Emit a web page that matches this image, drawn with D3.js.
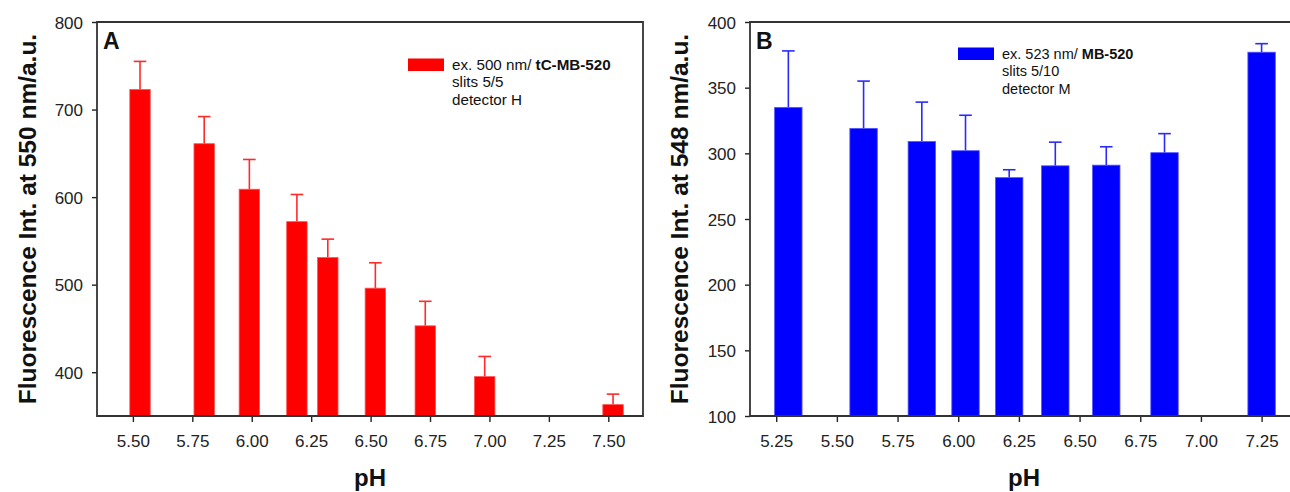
<!DOCTYPE html>
<html>
<head>
<meta charset="utf-8">
<script src="https://cdn.jsdelivr.net/npm/d3@7"></script>
<style>
  html, body { margin: 0; padding: 0; background: #fff; }
  svg { display: block; font-family: "Liberation Sans", Arial, sans-serif; }
</style>
</head>
<body>
<svg id="chart" width="1290" height="492"></svg>
<script>
// ---- Data: panel A (tC-MB-520) ----
const phA   = [5.53, 5.80, 5.99, 6.19, 6.32, 6.52, 6.73, 6.98, 7.52];
const valA  = [723, 661, 609, 572, 531, 496, 453, 395, 363];
const errA  = [32, 31, 34, 31, 21, 29, 28, 23, 12];
const xTicksA = [5.50, 5.75, 6.00, 6.25, 6.50, 6.75, 7.00, 7.25, 7.50];
const yTicksA = [400, 500, 600, 700, 800];

// ---- Data: panel B (MB-520) ----
const phB   = [5.30, 5.61, 5.85, 6.03, 6.21, 6.40, 6.61, 6.85, 7.25];
const valB  = [335, 319, 309, 302, 281.5, 290.5, 291, 300.5, 377];
const errB  = [43, 36, 30, 27, 6, 18, 14, 14.5, 6.5];
const xTicksB = [5.25, 5.50, 5.75, 6.00, 6.25, 6.50, 6.75, 7.00, 7.25];
const yTicksB = [100, 150, 200, 250, 300, 350, 400];

const legendA = ["ex. 500 nm/ ", "tC-MB-520", "slits 5/5", "detector H"];
const legendB = ["ex. 523 nm/ ", "MB-520", "slits 5/10", "detector M"];

const svg = d3.select("#chart");

function panel(cfg) {
  const g = svg.append("g");
  const x = d3.scaleLinear().domain(cfg.xDomain).range([cfg.left, cfg.right]);
  const y = d3.scaleLinear().domain(cfg.yDomain).range([cfg.bottom, cfg.top]);

  const clipId = "clip" + cfg.label;
  svg.append("defs").append("clipPath").attr("id", clipId)
    .append("rect").attr("x", cfg.left).attr("y", cfg.top - 30)
    .attr("width", cfg.right - cfg.left).attr("height", cfg.bottom - cfg.top + 30);

  const data = cfg.ph.map((p, i) => ({ p, v: cfg.val[i], e: cfg.err[i] }));
  const bw = x(cfg.xDomain[0] + cfg.barW) - x(cfg.xDomain[0]);

  const marks = g.append("g").attr("clip-path", `url(#${clipId})`);
  // error bars (positive only)
  marks.selectAll("line.err").data(data).join("line")
    .attr("x1", d => x(d.p)).attr("x2", d => x(d.p))
    .attr("y1", d => y(d.v)).attr("y2", d => y(d.v + d.e))
    .attr("stroke", cfg.errColor).attr("stroke-width", 1.6);
  marks.selectAll("line.cap").data(data).join("line")
    .attr("x1", d => x(d.p) - 6.3).attr("x2", d => x(d.p) + 6.3)
    .attr("y1", d => y(d.v + d.e)).attr("y2", d => y(d.v + d.e))
    .attr("stroke", cfg.errColor).attr("stroke-width", 1.6);
  // bars
  marks.selectAll("rect.bar").data(data).join("rect")
    .attr("x", d => x(d.p) - bw / 2).attr("width", bw)
    .attr("y", d => y(d.v)).attr("height", d => cfg.bottom - y(d.v))
    .attr("fill", cfg.color)
    .attr("stroke", cfg.edge).attr("stroke-width", 0.8);

  // axes
  const fmtX = d3.format(".2f");
  const xa = g.append("g").attr("transform", `translate(0,${cfg.bottom})`)
    .call(d3.axisBottom(x).tickValues(cfg.xTicks).tickFormat(fmtX).tickSize(6).tickSizeOuter(0));
  const ya = g.append("g").attr("transform", `translate(${cfg.left},0)`)
    .call(d3.axisLeft(y).tickValues(cfg.yTicks).tickFormat(d3.format("d")).tickSize(5).tickSizeOuter(0));
  [xa, ya].forEach(a => {
    a.select(".domain").remove();
    a.selectAll(".tick line").attr("stroke", "#222").attr("stroke-width", 1.4);
    a.selectAll(".tick text").attr("fill", "#222").style("font-size", "17px")
      .style("font-family", "'Liberation Sans', Arial, sans-serif");
  });
  xa.selectAll(".tick text").attr("dy", null).attr("y", 31);
  ya.selectAll(".tick text").attr("x", -14).attr("dy", "0.36em");

  // frame
  g.append("path")
    .attr("d", `M${cfg.left},${cfg.top}H${cfg.right}V${cfg.bottom}H${cfg.left}Z`)
    .attr("fill", "none").attr("stroke", "#333").attr("stroke-width", 1.8);

  // panel letter
  g.append("text").attr("x", cfg.left + 6).attr("y", cfg.top + 27)
    .attr("font-weight", "bold").attr("font-size", 23).attr("fill", "#111")
    .text(cfg.label);

  // axis titles
  g.append("text")
    .attr("transform", `translate(${cfg.yTitleX},${(cfg.top + cfg.bottom) / 2}) rotate(-90)`)
    .attr("text-anchor", "middle").attr("font-weight", "bold").attr("font-size", 24.5)
    .attr("fill", "#111").text(cfg.yTitle);
  g.append("text")
    .attr("x", (cfg.left + cfg.right) / 2).attr("y", 486)
    .attr("text-anchor", "middle").attr("font-weight", "bold").attr("font-size", 24)
    .attr("fill", "#111").text("pH");

  // legend
  const lg = g.append("g");
  lg.append("rect").attr("x", cfg.legX).attr("y", cfg.legY - 11)
    .attr("width", 36).attr("height", 12.5).attr("fill", cfg.color);
  const t1 = lg.append("text").attr("x", cfg.legX + 44).attr("y", cfg.legY)
    .attr("font-size", cfg.legFont).attr("fill", "#111");
  t1.append("tspan").text(cfg.legend[0]);
  t1.append("tspan").attr("font-weight", "bold").text(cfg.legend[1]);
  lg.append("text").attr("x", cfg.legX + 44).attr("y", cfg.legY + 17.5)
    .attr("font-size", cfg.legFont).attr("fill", "#111").text(cfg.legend[2]);
  lg.append("text").attr("x", cfg.legX + 44).attr("y", cfg.legY + 35.5)
    .attr("font-size", cfg.legFont).attr("fill", "#111").text(cfg.legend[3]);
}

panel({
  label: "A", left: 97, right: 643, top: 22, bottom: 416,
  xDomain: [5.349, 7.646], yDomain: [350, 800],
  ph: phA, val: valA, err: errA, barW: 0.086,
  xTicks: xTicksA, yTicks: yTicksA,
  color: "#ff0000", edge: "#ff5555", errColor: "#ff2a2a",
  yTitle: "Fluorescence Int. at 550 nm/a.u.", yTitleX: 36,
  legend: legendA, legX: 408, legY: 69.5, legFont: 15.2
});

panel({
  label: "B", left: 750, right: 1298, top: 22, bottom: 416,
  xDomain: [5.142, 7.40], yDomain: [100, 400],
  ph: phB, val: valB, err: errB, barW: 0.113,
  xTicks: xTicksB, yTicks: yTicksB,
  color: "#0000ff", edge: "#5555ff", errColor: "#2a2aff",
  yTitle: "Fluorescence Int. at 548 nm/a.u.", yTitleX: 688,
  legend: legendB, legX: 958, legY: 58.5, legFont: 14.5
});
</script>
</body>
</html>
